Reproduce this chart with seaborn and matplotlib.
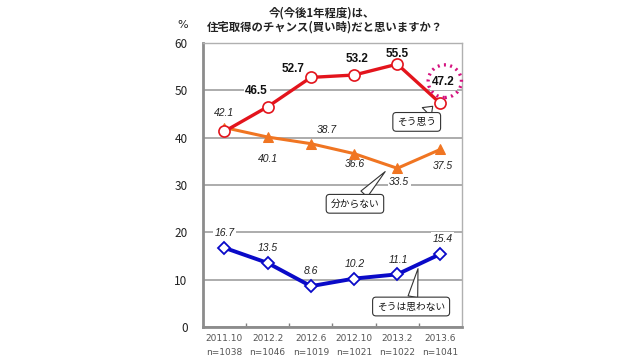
import matplotlib
matplotlib.use("Agg")
import matplotlib.pyplot as plt
import seaborn as sns
import pandas as pd
from matplotlib.patches import Ellipse
from matplotlib.ticker import FixedLocator

# Data
periods = ["2011.10", "2012.2", "2012.6", "2012.10", "2013.2", "2013.6"]
samples = ["n=1038", "n=1046", "n=1019", "n=1021", "n=1022", "n=1041"]
think_yes = [41.3, 46.5, 52.7, 53.2, 55.5, 47.2]   # そう思う
dont_know = [42.1, 40.1, 38.7, 36.6, 33.5, 37.5]   # 分からない
think_no = [16.7, 13.5, 8.6, 10.2, 11.1, 15.4]     # そうは思わない

sns.set_theme(style="white")
plt.rcParams["font.family"] = ["Noto Sans CJK JP", "DejaVu Sans"]

df = pd.DataFrame({"pos": range(len(periods)),
                   "yes": think_yes, "dk": dont_know, "no": think_no})

fig = plt.figure(figsize=(6.4, 3.6), dpi=100)
ax = fig.add_axes([0.317, 0.092, 0.405, 0.789])

red = "#e3141c"
orange = "#f07522"
blue = "#0a0ac8"

sns.lineplot(data=df, x="pos", y="dk", color=orange, lw=2.2, marker="^",
             markersize=7, markeredgecolor=orange, markerfacecolor=orange, ax=ax, zorder=3)
sns.lineplot(data=df, x="pos", y="yes", color=red, lw=2.4, marker="o",
             markersize=8, markeredgecolor=red, markerfacecolor="white",
             markeredgewidth=1.2, ax=ax, zorder=4)
sns.lineplot(data=df, x="pos", y="no", color=blue, lw=2.8, marker="D",
             markersize=6.5, markeredgecolor=blue, markerfacecolor="white",
             markeredgewidth=1.3, ax=ax, zorder=4)

ax.set_xlim(-0.5, len(periods) - 0.5)
ax.set_ylim(0, 60)
ax.set_yticks(range(0, 61, 10))
ax.set_xticks(range(len(periods)))
ax.set_xticklabels([f"{p}\n{n}" for p, n in zip(periods, samples)],
                   fontsize=6.5, color="#555555", linespacing=1.7,
                   family=["DejaVu Sans"])
ax.xaxis.set_minor_locator(FixedLocator([i + 0.5 for i in range(len(periods) - 1)]))
ax.tick_params(axis="x", which="major", length=0, pad=5)
ax.tick_params(axis="x", which="minor", length=3, direction="in", color="#808080", width=1, bottom=True)
ax.tick_params(axis="y", length=0, pad=11, labelsize=8.5, labelcolor="#222222")
ax.set_xlabel("")
ax.set_ylabel("")
ax.yaxis.grid(True, color="#a6a6a6", lw=1.3, zorder=0)
ax.set_axisbelow(True)
for side in ["left", "bottom"]:
    ax.spines[side].set_color("#8c8c8c")
    ax.spines[side].set_linewidth(2)
for side in ["top", "right"]:
    ax.spines[side].set_color("#b0b0b0")
    ax.spines[side].set_linewidth(1)

px = 0.72  # pixel -> point
yes_off = [None, (-11, 16), (-18, 8), (3, 16), (0, 10), (3, 21)]
dk_off = [(0, 15), (0, -22), (16, 14), (1, -10), (2, -14), (2, -17)]
no_off = [(0, 15), (0, 15), (0, 15.5), (1, 15), (1, 14.5), (2, 15)]

num_font = ["Liberation Sans", "DejaVu Sans"]
for i, v in enumerate(think_yes):
    if yes_off[i] is None:
        continue
    ax.annotate(f"{v:.1f}", (i, v), xytext=(yes_off[i][0] * px, yes_off[i][1] * px),
                textcoords="offset points", ha="center", va="center", fontsize=8.5,
                fontweight="bold", color="#111111", family=num_font, zorder=2.5,
                bbox=dict(boxstyle="square,pad=0.15", fc="white", ec="none"))
for vals, offs in [(dont_know, dk_off), (think_no, no_off)]:
    for i, v in enumerate(vals):
        ax.annotate(f"{v:.1f}", (i, v), xytext=(offs[i][0] * px, offs[i][1] * px),
                    textcoords="offset points", ha="center", va="center", fontsize=7.5,
                    style="italic", color="#222222", family=num_font, zorder=2.5,
                    bbox=dict(boxstyle="square,pad=0.15", fc="white", ec="none"))

# dotted highlight around the latest "そう思う" value
ax.add_patch(Ellipse((5.1, 51.9), 0.77, 6.9, fill=False, ec="#d4127f", lw=2.4,
                     ls=(0, (0.6, 1.3)), clip_on=False, zorder=7))

# speech-bubble callouts
box = dict(boxstyle="round,pad=0.45,rounding_size=0.35", fc="white", ec="#333333", lw=0.8)
def callout(text, tip, center, tail):
    ax.annotate(text, xy=tip, xytext=center, textcoords="data", ha="center", va="center",
                fontsize=7, color="#111111", bbox=box, zorder=8,
                arrowprops=dict(arrowstyle=f"wedge,tail_width={tail},shrink_factor=0.5",
                                fc="white", ec="#333333", lw=0.8, shrinkA=0, shrinkB=0))

callout("そう思う", (4.82, 46.6), (4.45, 43.3), 1.3)
callout("分からない", (3.72, 32.8), (3.02, 26.0), 0.9)
callout("そうは思わない", (4.48, 12.3), (4.32, 4.3), 1.0)

fig.text(0.503, 0.963, "今(今後1年程度)は、", ha="center", va="center",
         fontsize=8.2, fontweight="bold", color="#222222")
fig.text(0.508, 0.926, "住宅取得のチャンス(買い時)だと思いますか？", ha="center", va="center",
         fontsize=8.2, fontweight="bold", color="#222222")
fig.text(0.286, 0.93, "%", ha="center", va="center", fontsize=8, color="#222222",
         family=["DejaVu Sans"])

fig.savefig("out.png", dpi=100)
